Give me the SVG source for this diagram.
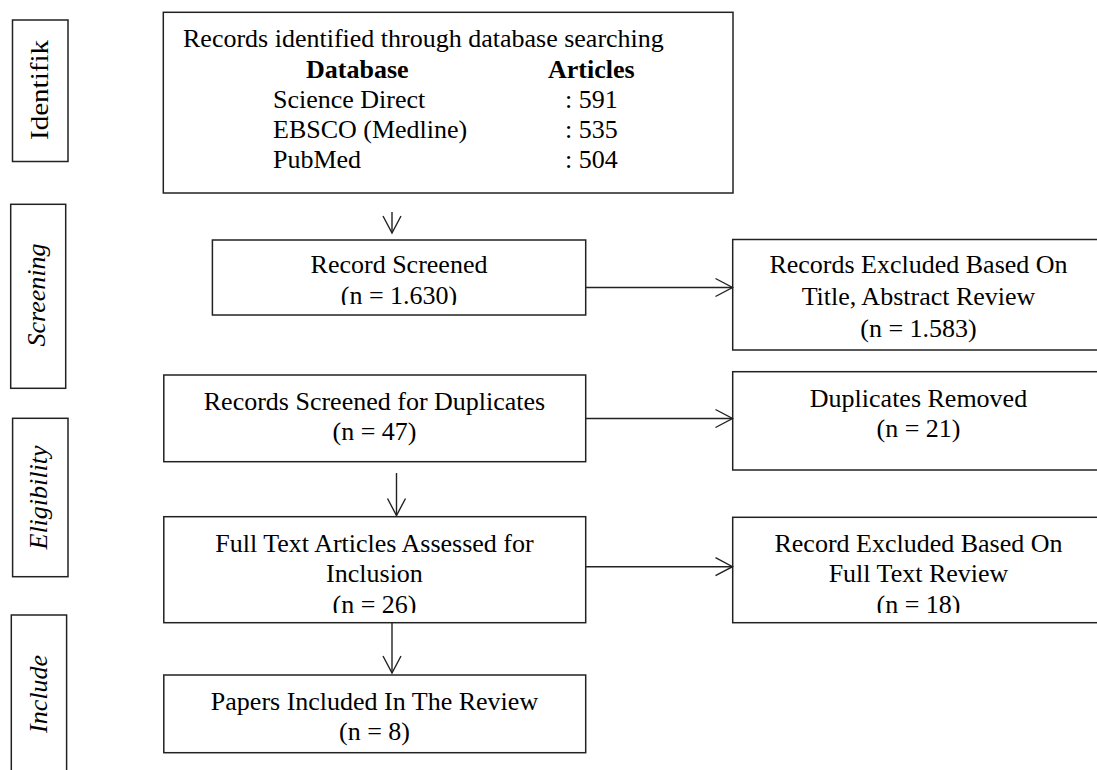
<svg xmlns="http://www.w3.org/2000/svg" width="1097" height="770" viewBox="0 0 1097 770">
<style>
.box{fill:#fff;stroke:#222;stroke-width:1.5}
.t{font-family:"Liberation Serif","Times New Roman",serif;font-size:26px;fill:#000}
.c{text-anchor:middle}
.b{font-weight:bold}
.i{font-style:italic}
.ln{stroke:#222;stroke-width:1.4;fill:none}
</style>
<defs>
<marker id="ah" markerUnits="userSpaceOnUse" markerWidth="20" markerHeight="22" viewBox="-18 -10 20 20" refX="0" refY="0" orient="auto">
<path d="M-17,-9 L0,0 L-17,9" fill="none" stroke="#222" stroke-width="1.4"/>
</marker>
<clipPath id="cp1"><rect x="212" y="240" width="374" height="65"/></clipPath>
<clipPath id="cp2"><rect x="163" y="517" width="423" height="96"/></clipPath>
<clipPath id="cp3"><rect x="732" y="517" width="365" height="96"/></clipPath>
</defs>

<g id="phase-identifik">
<rect class="box" x="12.5" y="20" width="55.5" height="141.5"/>
<text class="t c" transform="translate(48,90) rotate(-90)" textLength="100" lengthAdjust="spacingAndGlyphs">Identifik</text>
</g>
<g id="phase-screening">
<rect class="box" x="10.7" y="204.3" width="55" height="184"/>
<text class="t c i" transform="translate(44.5,295) rotate(-90)">Screening</text>
</g>
<g id="phase-eligibility">
<rect class="box" x="12.6" y="418.3" width="55.4" height="158.4"/>
<text class="t c i" transform="translate(46.5,497.5) rotate(-90)">Eligibility</text>
</g>
<g id="phase-include">
<rect class="box" x="11.3" y="615" width="55.3" height="170"/>
<text class="t c i" transform="translate(46.7,694) rotate(-90)">Include</text>
</g>

<g id="node-identified">
<rect class="box" x="163.3" y="12.3" width="569.7" height="180.7"/>
<text class="t" x="183" y="46.7">Records identified through database searching</text>
<text class="t b" x="306" y="78.3">Database</text>
<text class="t b" x="548" y="78.3">Articles</text>
<text class="t" x="273" y="108.3">Science Direct</text>
<text class="t" x="565" y="108.3">: 591</text>
<text class="t" x="273" y="138.3">EBSCO (Medline)</text>
<text class="t" x="565" y="138.3">: 535</text>
<text class="t" x="273" y="168.3">PubMed</text>
<text class="t" x="565" y="168.3">: 504</text>
</g>

<g id="node-screened">
<rect class="box" x="212.4" y="240" width="373.3" height="75"/>
<text class="t c" x="399" y="273.3">Record Screened</text>
<text class="t c" x="399" y="304" clip-path="url(#cp1)">(n = 1.630)</text>
</g>

<g id="node-excluded-title">
<rect class="box" x="732.7" y="239.5" width="372" height="110.5"/>
<text class="t c" x="918.5" y="273.3">Records Excluded Based On</text>
<text class="t c" x="918.5" y="305">Title, Abstract Review</text>
<text class="t c" x="918.5" y="336.7">(n = 1.583)</text>
</g>

<g id="node-duplicates-screened">
<rect class="box" x="163.8" y="375" width="421.9" height="86.7"/>
<text class="t c" x="374.5" y="410">Records Screened for Duplicates</text>
<text class="t c" x="374.5" y="440">(n = 47)</text>
</g>

<g id="node-duplicates-removed">
<rect class="box" x="732.7" y="371.7" width="372" height="98.3"/>
<text class="t c" x="918.5" y="406.7">Duplicates Removed</text>
<text class="t c" x="918.5" y="436.7">(n = 21)</text>
</g>

<g id="node-fulltext">
<rect class="box" x="163.8" y="516.7" width="421.9" height="106"/>
<text class="t c" x="374.5" y="551.7">Full Text Articles Assessed for</text>
<text class="t c" x="374.5" y="581.7">Inclusion</text>
<text class="t c" x="374.5" y="612.5" clip-path="url(#cp2)">(n = 26)</text>
</g>

<g id="node-excluded-fulltext">
<rect class="box" x="732.7" y="517.3" width="372" height="105.4"/>
<text class="t c" x="918.5" y="551.7">Record Excluded Based On</text>
<text class="t c" x="918.5" y="581.7">Full Text Review</text>
<text class="t c" x="918.5" y="612.5" clip-path="url(#cp3)">(n = 18)</text>
</g>

<g id="node-included">
<rect class="box" x="163.8" y="675" width="421.9" height="77.7"/>
<text class="t c" x="374.5" y="710">Papers Included In The Review</text>
<text class="t c" x="374.5" y="740">(n = 8)</text>
</g>

<g id="connectors">
<line class="ln" x1="392" y1="212" x2="392" y2="233" marker-end="url(#ah)"/>
<line class="ln" x1="585.7" y1="287.5" x2="732.5" y2="287.5" marker-end="url(#ah)"/>
<line class="ln" x1="585.7" y1="418.5" x2="732.5" y2="418.5" marker-end="url(#ah)"/>
<line class="ln" x1="396.5" y1="473" x2="396.5" y2="515.5" marker-end="url(#ah)"/>
<line class="ln" x1="585.7" y1="566.7" x2="732.5" y2="566.7" marker-end="url(#ah)"/>
<line class="ln" x1="392" y1="622.7" x2="392" y2="673" marker-end="url(#ah)"/>
</g>
</svg>
